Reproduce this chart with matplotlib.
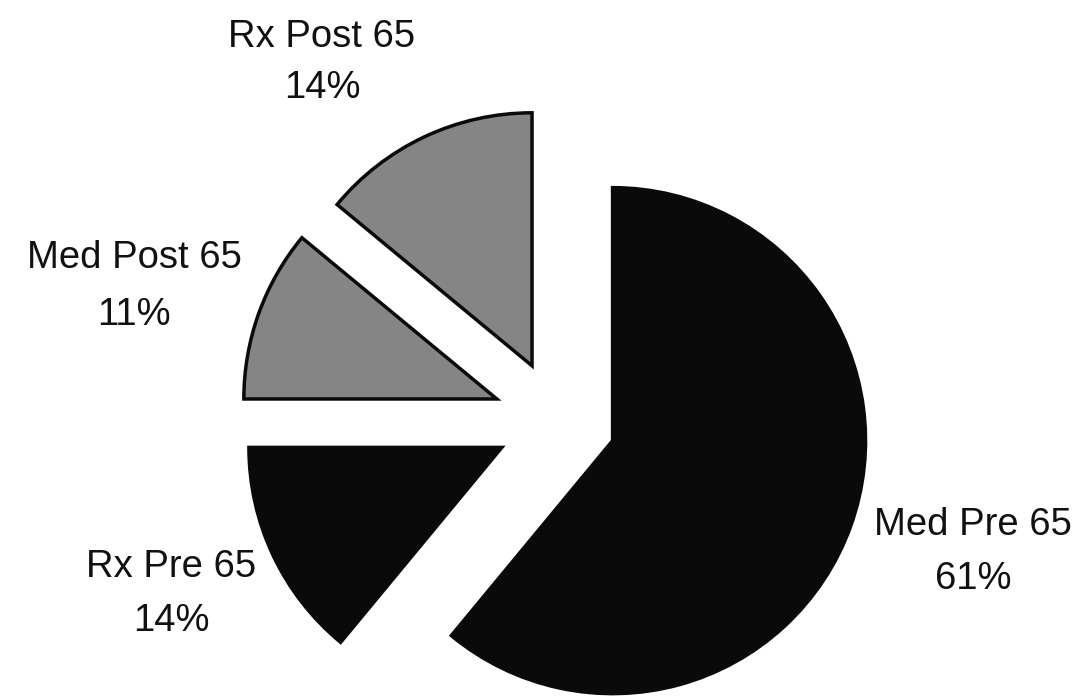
import matplotlib
matplotlib.use("Agg")
import matplotlib.pyplot as plt

# Data
categories = ["Med Pre 65", "Rx Pre 65", "Med Post 65", "Rx Post 65"]
values = [61, 14, 11, 14]
pct_labels = ["61%", "14%", "11%", "14%"]

# Styling / layout
colors = ["#0a0a0a", "#0a0a0a", "#858585", "#858585"]
explode = [58, 62, 65, 61]          # offsets in pixels
radius = 253
center = (558, 698 - 421)
# label positions (x, baseline of line1, baseline of line2) in pixel coords from top
label_pos = {
    "Med Pre 65": (973, 535, 589),
    "Rx Pre 65": (171, 577, 631),
    "Med Post 65": (134, 268, 325),
    "Rx Post 65": (322, 47, 98),
}

plt.rcParams['font.family'] = ['Liberation Sans', 'DejaVu Sans']

fig = plt.figure(figsize=(10.84, 6.98), dpi=100)
ax = fig.add_axes([0, 0, 1, 1])

wedges, _ = ax.pie(values, explode=explode, radius=radius, center=center,
                   colors=colors, startangle=90, counterclock=False,
                   wedgeprops=dict(edgecolor="#0a0a0a", linewidth=2.5,
                                   joinstyle="miter"))

ax.set_xlim(0, 1084)
ax.set_ylim(0, 698)
ax.set_aspect('equal')
ax.axis('off')

fs = 27.5
for cat, pct in zip(categories, pct_labels):
    x, b1, b2 = label_pos[cat]
    ax.text(x, 698 - b1, cat, ha='center', va='baseline', fontsize=fs, color='#111111')
    ax.text(x, 698 - b2, pct, ha='center', va='baseline', fontsize=fs, color='#111111')

fig.savefig("out.png", dpi=100, facecolor="white")
